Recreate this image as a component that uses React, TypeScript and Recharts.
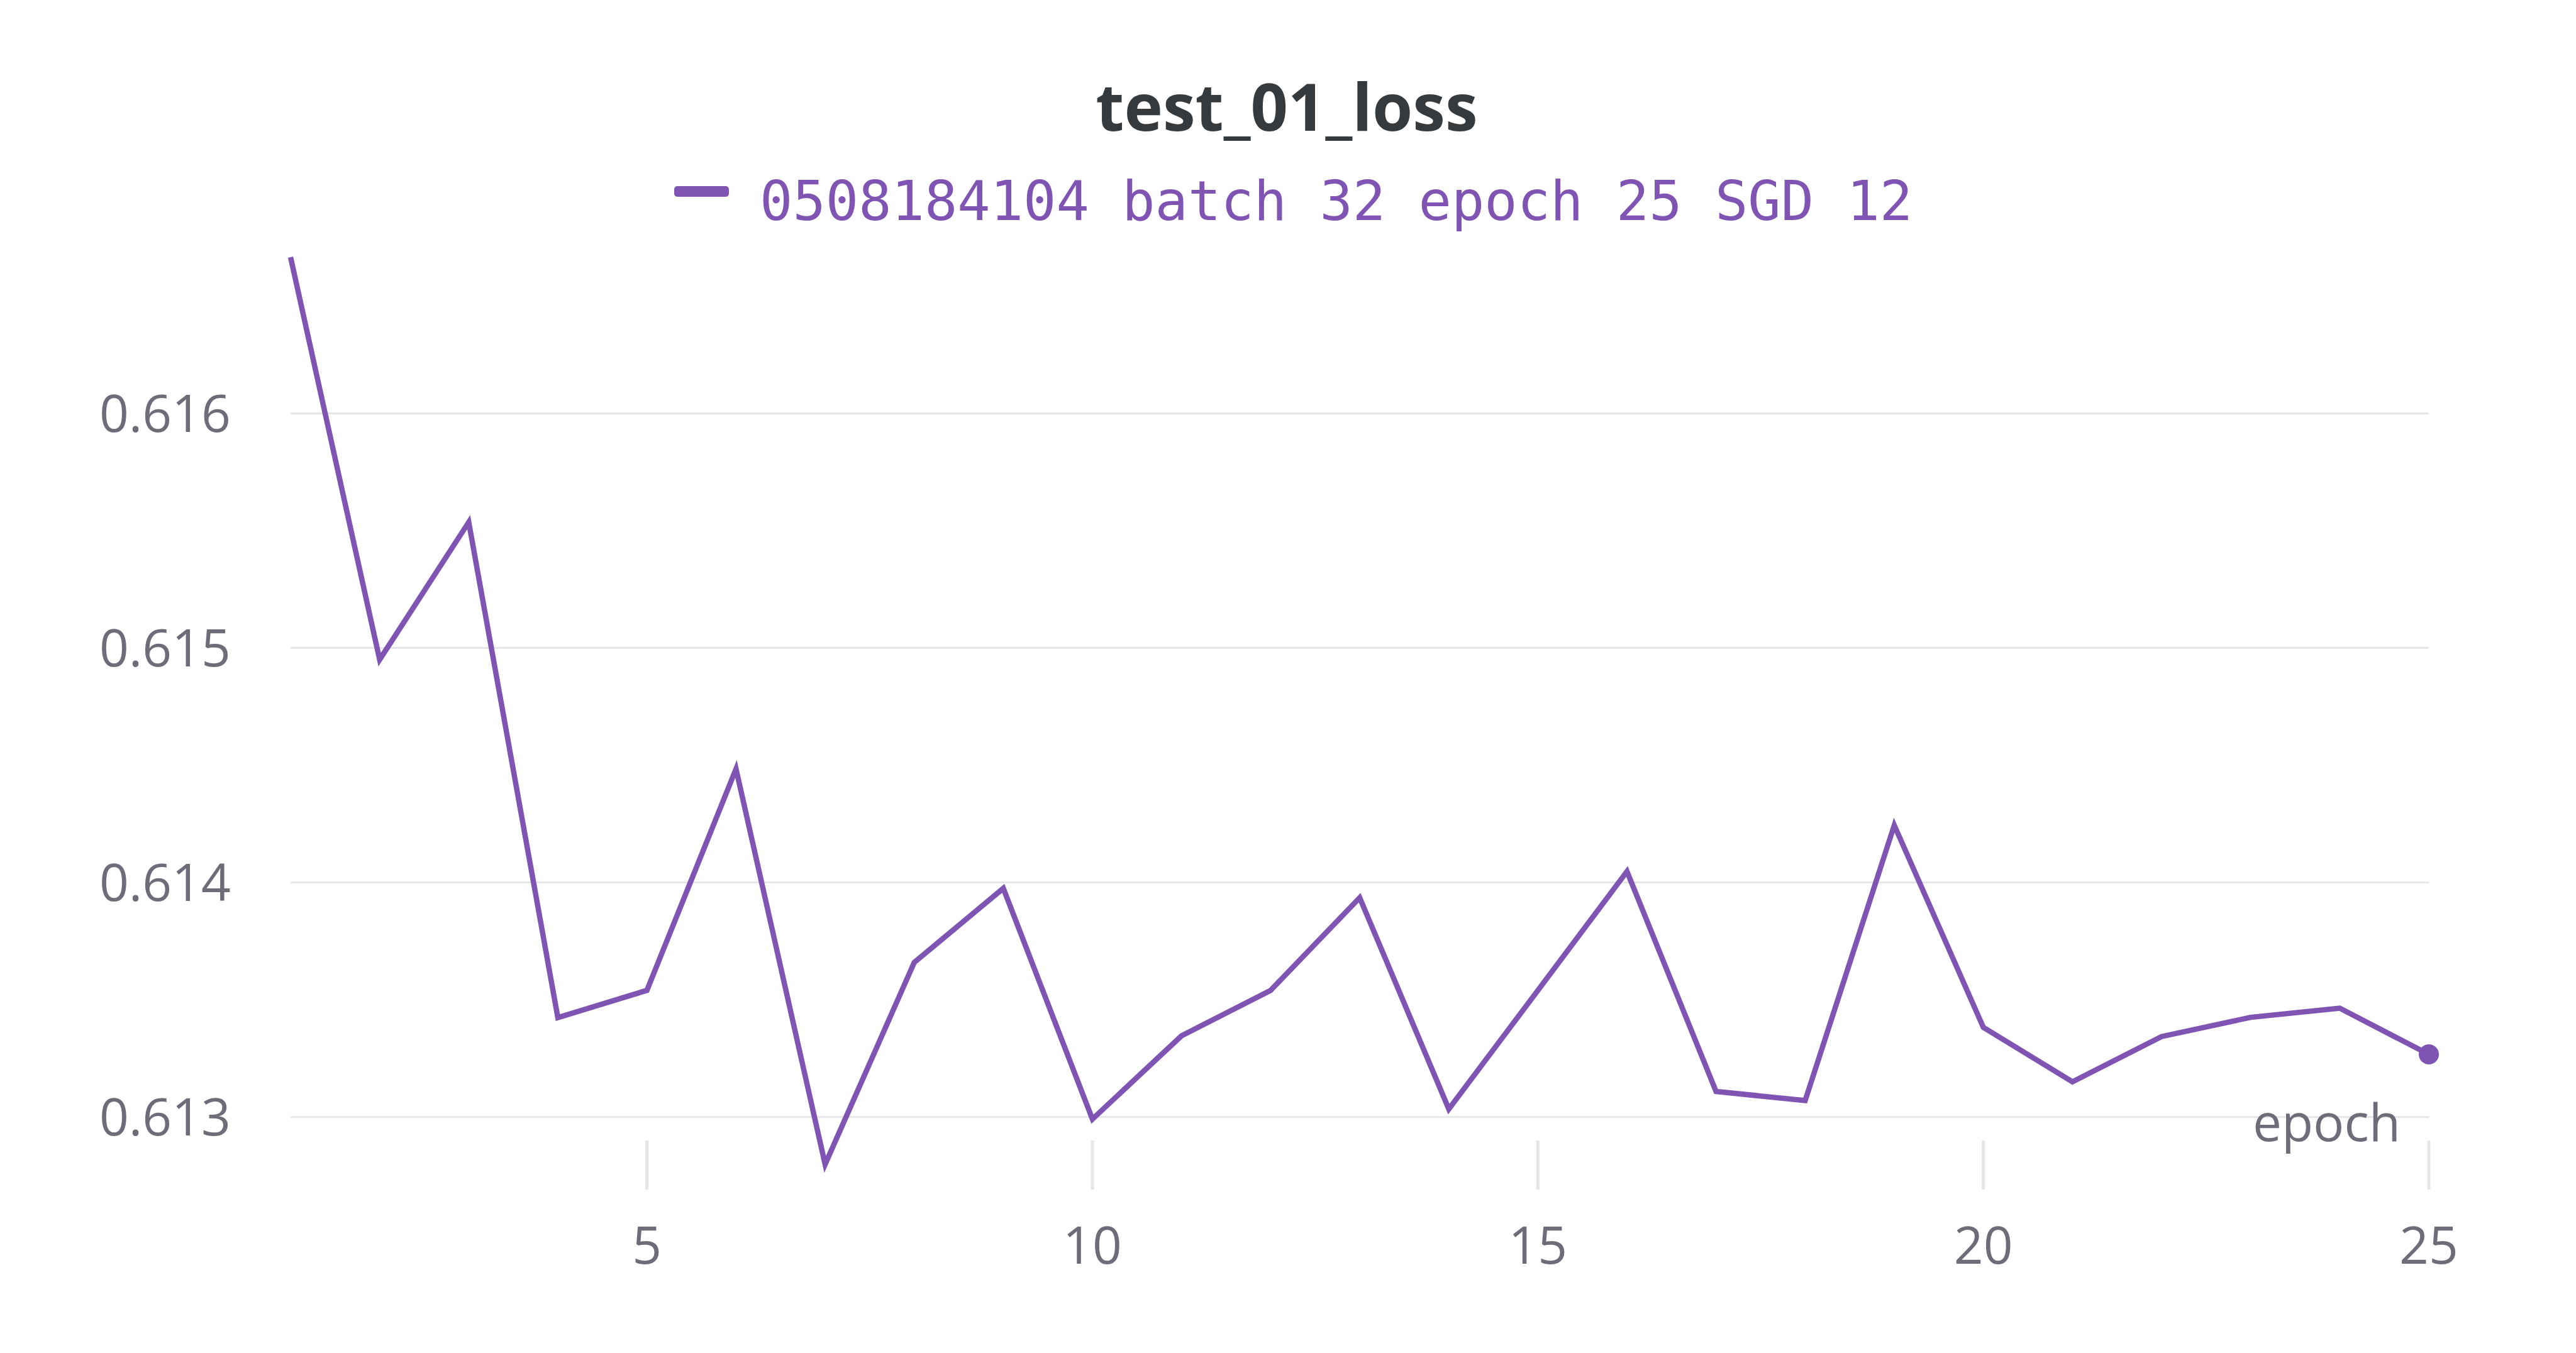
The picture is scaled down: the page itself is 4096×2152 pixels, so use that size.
import { LineChart, Line, XAxis, YAxis, CartesianGrid } from 'recharts'

const TITLE = 'test_01_loss'
const RUN_NAME = '0508184104 batch 32 epoch 25 SGD 12'
const X_LABEL = 'epoch'

const EPOCHS = [1, 2, 3, 4, 5, 6, 7, 8, 9, 10, 11, 12, 13, 14, 15, 16, 17, 18, 19, 20, 21, 22, 23, 24, 25]
const LOSS = [
  0.616666, 0.61495, 0.615536, 0.613424, 0.61354, 0.614484, 0.612798, 0.613659, 0.613975, 0.612991,
  0.613346, 0.61354, 0.613935, 0.613034, 0.61354, 0.614047, 0.613109, 0.61307, 0.614244, 0.613382,
  0.61315, 0.613343, 0.613425, 0.613464, 0.613267,
]
const X_TICKS = [5, 10, 15, 20, 25]
const Y_TICKS = [0.613, 0.614, 0.615, 0.616]

const PURPLE = 'rgb(127, 84, 179)'
const GRID = '#e6e6e9'
const TEXT_GRAY = '#6c6d78'
const SANS = '"Open Sans", "Noto Sans", sans-serif'

const data = EPOCHS.map((epoch, i) => ({ epoch, loss: LOSS[i] }))
const yDomain = [Math.min(...LOSS), Math.max(...LOSS)]

function XTick(props: any) {
  const { x, y, payload } = props
  return (
    <g>
      <line x1={x} x2={x} y1={y - 38} y2={y + 40} stroke={GRID} strokeWidth={5} />
      <text x={x} y={y + 158} textAnchor="middle" fill={TEXT_GRAY} fontSize={82} fontFamily={SANS}>
        {payload.value}
      </text>
    </g>
  )
}

function EndDot(props: any) {
  const { cx, cy, index } = props
  if (index !== data.length - 1) return <g key={'d' + index} />
  return <circle key={'d' + index} cx={cx} cy={cy} r={16} fill={PURPLE} />
}

export default function App() {
  return (
    <div style={{ position: 'absolute', left: 0, top: 0, width: 4096, height: 2152, background: '#fff' }}>
      <LineChart width={4096} height={2152} data={data} margin={{ top: 409, right: 234, left: 0, bottom: 0 }}>
        <CartesianGrid vertical={false} stroke={GRID} strokeWidth={3} syncWithTicks />
        <XAxis
          dataKey="epoch"
          type="number"
          domain={[1, 25]}
          ticks={X_TICKS}
          interval={0}
          height={300}
          axisLine={false}
          tickLine={false}
          tickSize={0}
          tickMargin={0}
          tick={<XTick />}
          label={{
            content: ({ viewBox }: any) => (
              <text
                x={viewBox.x + viewBox.width - 45}
                y={viewBox.y - 37}
                textAnchor="end"
                fill={TEXT_GRAY}
                fontSize={82}
                fontFamily={SANS}
              >
                {X_LABEL}
              </text>
            ),
          }}
        />
        <YAxis
          type="number"
          domain={yDomain}
          ticks={Y_TICKS}
          width={462}
          axisLine={false}
          tickLine={false}
          tickSize={0}
          tickMargin={95}
          tickFormatter={(v: number) => v.toFixed(3)}
          tick={{ fill: TEXT_GRAY, fontSize: 82, fontFamily: SANS }}
        />
        <Line
          type="linear"
          dataKey="loss"
          stroke={PURPLE}
          strokeWidth={8.5}
          dot={EndDot}
          activeDot={false}
          isAnimationActive={false}
        />
      </LineChart>
      <svg
        width={4096}
        height={2152}
        style={{ position: 'absolute', left: 0, top: 0, pointerEvents: 'none' }}
      >
        <text x={2046} y={208} textAnchor="middle" fill="#363a3d" fontSize={104} fontWeight={700} fontFamily={SANS}>
          {TITLE}
        </text>
        <rect x={1072} y={296} width={87} height={17} rx={5} fill={PURPLE} />
        <text x={1208} y={350} fill={PURPLE} fontSize={87} fontFamily='"DejaVu Sans Mono", monospace'>
          {RUN_NAME}
        </text>
      </svg>
    </div>
  )
}
